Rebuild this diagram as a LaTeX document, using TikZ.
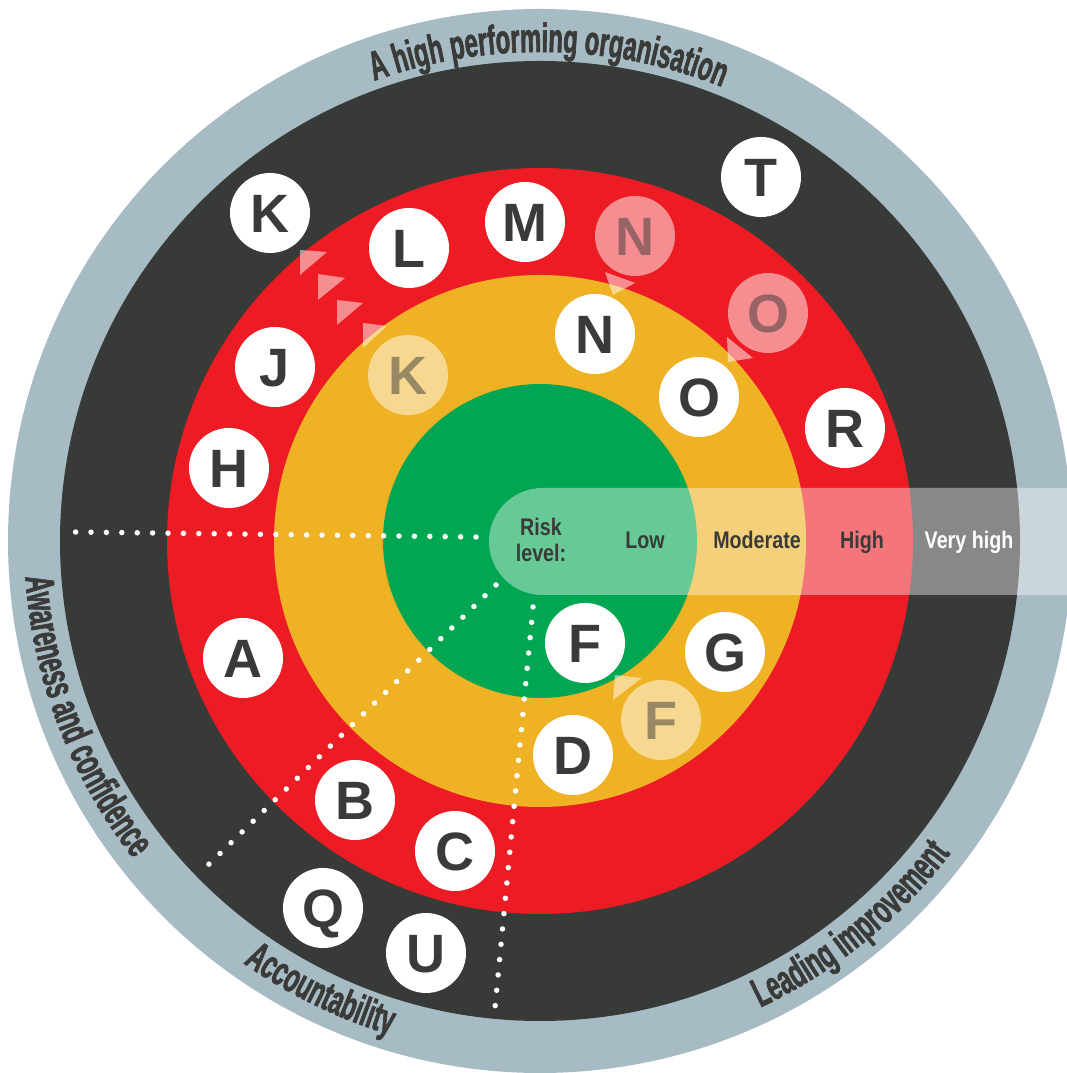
\documentclass[tikz,border=0pt]{standalone}
\usepackage{fontspec}
\setmainfont{Liberation Sans}
\newfontfamily\condfont[FakeStretch=0.58,FakeBold=1.5]{Liberation Sans}
\newfontfamily\labfont[FakeStretch=0.82]{Liberation Sans}
\usetikzlibrary{decorations.text}
\definecolor{ringgray}{HTML}{A7BBC5}
\definecolor{ringdark}{HTML}{383A37}
\definecolor{ringred}{HTML}{ED1C24}
\definecolor{ringorange}{HTML}{EFB224}
\definecolor{ringgreen}{HTML}{00A651}
\definecolor{txtdark}{HTML}{3A3B39}
\begin{document}
\begin{tikzpicture}[x=1pt,y=1pt,
  ball/.style={circle, fill=white, minimum size=80pt, inner sep=0pt, text=txtdark,
    font=\bfseries\fontsize{54}{54}\selectfont, text height=38.7pt, text depth=0pt},
  faded/.style={ball, fill opacity=0.5, text opacity=0.5},
  lab/.style={text=txtdark, font=\labfont\bfseries\fontsize{24}{26}\selectfont, inner sep=0pt},
  dots/.style={draw=white, line width=5.5pt, line cap=round, dash pattern=on 0pt off 15.4pt},
  pointer/.style={fill=white, fill opacity=0.5},
  ringtext/.style={decorate, decoration={text along path, text align=center,
    text={|\condfont\bfseries\fontsize{41}{41}\selectfont\color{txtdark}|#1}}}
]
\useasboundingbox (0,0) rectangle (1067,1073);
\clip (0,0) rectangle (1067,1073);
\coordinate (ctr) at (540,532);

% rings
\fill[ringgray] (ctr) circle[radius=532];
\fill[ringdark] (ctr) circle[radius=480];
\fill[ringred] (ctr) circle[radius=373];
\fill[ringorange] (ctr) circle[radius=266];
\fill[ringgreen] (ctr) circle[radius=157];

% ring texts
\begin{scope}[shift={(ctr)}]
\path[ringtext={A high performing organisation}] (129:489) arc[start angle=129, end angle=49, radius=489];
\path[ringtext={Awareness and confidence}] (171:516) arc[start angle=171, end angle=231, radius=516];
\path[ringtext={Accountability}] (224:516) arc[start angle=224, end angle=264, radius=516];
\path[ringtext={Leading improvement}] (289:516) arc[start angle=289, end angle=329, radius=516];
\end{scope}

% dotted lines
\coordinate (d1a) at (74,541);  \coordinate (d1b) at (476,536);
\coordinate (d2a) at (496,488); \coordinate (d2b) at (203,203);
\coordinate (d3a) at (533,466); \coordinate (d3b) at (495,65);
\draw[dots] (d1b) -- (d1a);
\draw[dots] (d2a) -- (d2b);
\draw[dots] (d3a) -- (d3b);

% risk level bar
\fill[white, fill opacity=0.4, rounded corners=53.5pt] (489,478) rectangle (1200,585);
\node[lab, align=center] (risk) at (541,533.5) {Risk\\level:};
\node[lab, anchor=base] (low) at (645,524) {Low};
\node[lab, anchor=base] (mod) at (757,524) {Moderate};
\node[lab, anchor=base] (high) at (862,524) {High};
\node[lab, anchor=base, text=white] (vhigh) at (969,524) {Very high};

% pointers
\fill[pointer] (300,823) -- (327,821) -- (300,798) -- cycle;
\fill[pointer] (318,799) -- (345,795) -- (318,773) -- cycle;
\fill[pointer] (337,773) -- (363,770) -- (337,748) -- cycle;
\fill[pointer] (363,750) -- (387,747) -- (363,725) -- cycle;
\fill[pointer] (605,801) -- (635,790) -- (613,778) -- cycle;
\fill[pointer] (727,736) -- (753,715) -- (728,711) -- cycle;
\fill[pointer] (615,398) -- (642,395) -- (613,373) -- cycle;

% letter circles
\node[ball] (K) at (270,860) {K};
\node[ball] (L) at (409,825) {L};
\node[ball] (M) at (525,851) {M};
\node[faded] (Nf) at (635,837) {N};
\node[ball] (T) at (761,896) {T};
\node[faded] (Of) at (768,760) {O};
\node[ball] (N) at (595,739) {N};
\node[ball] (O) at (699,676) {O};
\node[ball] (R) at (845,645) {R};
\node[ball] (J) at (275,706) {J};
\node[faded] (Kf) at (408,698) {K};
\node[ball] (H) at (229,605) {H};
\node[ball] (A) at (243,415) {A};
\node[ball] (F) at (585,430) {F};
\node[ball] (G) at (725,421) {G};
\node[faded] (Ff) at (661,353) {F};
\node[ball] (D) at (573,318) {D};
\node[ball] (B) at (355,273) {B};
\node[ball] (Cc) at (455,222) {C};
\node[ball] (Q) at (323,165) {Q};
\node[ball] (U) at (426,120) {U};
\end{tikzpicture}
\end{document}
